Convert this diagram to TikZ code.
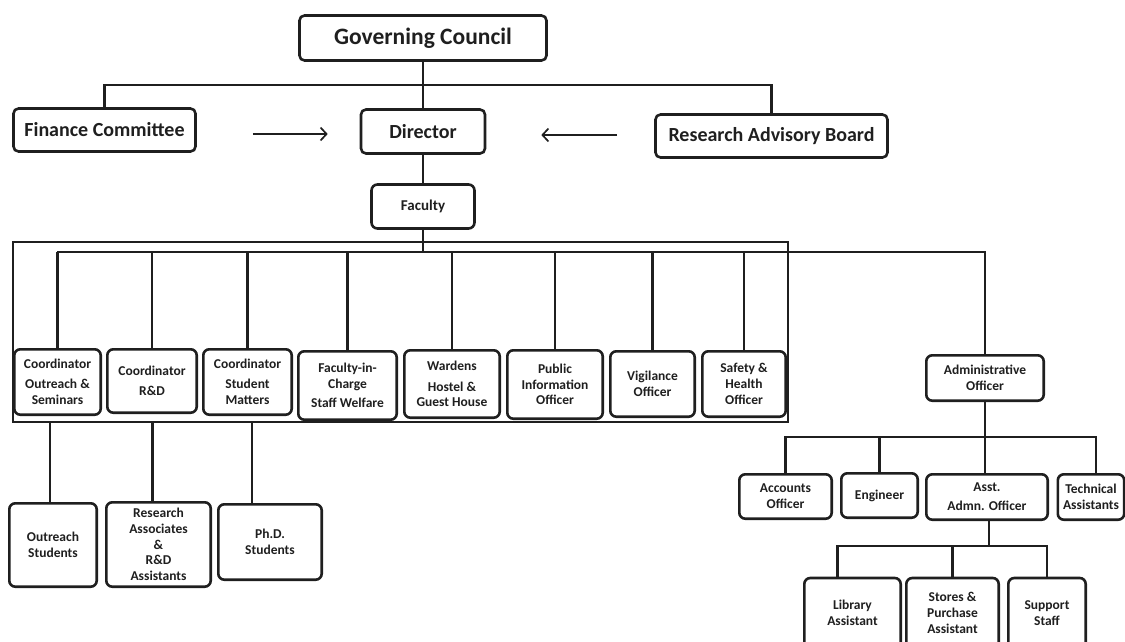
\documentclass[tikz,border=0pt]{standalone}
\usepackage{fontspec}
\setmainfont{Carlito}
\usetikzlibrary{arrows.meta}
\definecolor{ink}{gray}{0.12}
\begin{document}
\begin{tikzpicture}[x=1pt,y=-1pt,
  line/.style={draw=ink, line width=2.6pt},
  box/.style={draw=ink, line width=2.6pt, rounded corners=6pt, fill=white, align=center, inner sep=0pt, text=ink, font=\bfseries\fontsize{13.5}{15.8}\selectfont},
  bigbox/.style={box, rounded corners=5pt, font=\bfseries\fontsize{20}{23}\selectfont},
  arr/.style={draw=ink, line width=1.7pt, -{Straight Barb[length=6pt,width=13pt,line width=1.7pt]}},
  frame/.style={draw=ink, line width=2.6pt, inner sep=0pt}
]
\useasboundingbox (0,0) rectangle (1125,641);
% frame round the faculty posts
\node[frame, minimum width=775, minimum height=180] (grp) at (400.5,332) {};
% top levels
\node[bigbox, minimum width=247, minimum height=45, font=\bfseries\fontsize{23.5}{26}\selectfont] (gc) at (423,38) {Governing Council};
\node[bigbox, minimum width=182, minimum height=43] (fin) at (104.5,130) {Finance Committee};
\node[bigbox, minimum width=124, minimum height=44] (dir) at (423,131.5) {Director};
\node[bigbox, minimum width=232, minimum height=43] (rab) at (771.5,136) {Research Advisory Board};
\node[box, minimum width=103, minimum height=44, font=\bfseries\fontsize{15}{17}\selectfont] (fac) at (423,206.5) {Faculty};
% faculty posts
\node[box, minimum width=86.4, minimum height=65.4] (c1) at (57.5,382) {Coordinator\\[4pt]Outreach \&\\Seminars};
\node[box, minimum width=89.4, minimum height=63.4] (c2) at (152,381) {Coordinator\\[4pt]R\&D};
\node[box, minimum width=88.4, minimum height=65.4] (c3) at (247.5,382) {Coordinator\\[4pt]Student\\Matters};
\node[box, minimum width=98.4, minimum height=68.4] (c4) at (347.5,385.5) {Faculty-in-\\Charge\\[4pt]Staff Welfare};
\node[box, minimum width=95.4, minimum height=67.4] (c5) at (452,384) {Wardens\\[5pt]Hostel \&\\Guest House};
\node[box, minimum width=95.4, minimum height=68.4] (c6) at (555,384.5) {Public\\Information\\Officer};
\node[box, minimum width=84.4, minimum height=65.4] (c7) at (652.5,384) {Vigilance\\Officer};
\node[box, minimum width=83.4, minimum height=65.4] (c8) at (744,384) {Safety \&\\Health\\Officer};
\node[box, minimum width=117.4, minimum height=45.4] (adm) at (985,378) {Administrative\\Officer};
% under the coordinators
\node[box, minimum width=87.4, minimum height=83.4] (s1) at (53,545) {Outreach\\Students};
\node[box, minimum width=104.4, minimum height=84.4] (s2) at (158.5,544.5) {Research\\Associates\\\&\\R\&D\\Assistants};
\node[box, minimum width=103.4, minimum height=75.4] (s3) at (270,542) {Ph.D.\\Students};
% administration
\node[box, minimum width=92.4, minimum height=44.4] (a1) at (785.5,496.5) {Accounts\\Officer};
\node[box, minimum width=76.4, minimum height=44.4] (a2) at (879.5,495.5) {Engineer};
\node[box, minimum width=121.4, minimum height=45.4] (a3) at (987,497) {Asst.\\[3pt]Admn. Officer};
\node[box, minimum width=66.4, minimum height=45.4] (a4) at (1091,497) {Technical\\Assistants};
\node[box, minimum width=96.4, minimum height=70] (b1) at (852.5,613) {Library\\Assistant};
\node[box, minimum width=92.4, minimum height=70] (b2) at (952.5,613) {Stores \&\\Purchase\\Assistant};
\node[box, minimum width=77.4, minimum height=70] (b3) at (1047,613) {Support\\Staff};
% bus coordinates
\coordinate (top) at (423,85);
\coordinate (bus) at (57,252);
\coordinate (abus) at (985,437);
\coordinate (bbus) at (989,546);
% top connectors
\draw[line] (gc.south) -- (dir.north);
\draw[line] (fin.north) |- (top) -| (rab.north);
\draw[line] (dir.south) -- (fac.north);
\draw[arr, shorten <=56pt, shorten >=32pt] ([yshift=-4pt]fin.east) -- ([yshift=-4pt]fin.east -| dir.west);
\draw[arr, shorten <=37pt, shorten >=55pt] ([yshift=1pt]rab.west) -- ([yshift=1pt]rab.west -| dir.east);
% faculty bus
\draw[line] (fac.south) -- (fac.south |- bus);
\draw[line] (bus) -| (adm.north);
\foreach \n in {c1,c2,c3,c4,c5,c6,c7,c8} {\draw[line] (\n.north) -- (\n.north |- bus);}
% under the frame
\draw[line] ([xshift=-3pt]s1.north) -- ([xshift=-3pt]s1.north |- grp.south);
\draw[line] ([xshift=-6pt]s2.north) -- ([xshift=-6pt]s2.north |- grp.south);
\draw[line] ([xshift=-18pt]s3.north) -- ([xshift=-18pt]s3.north |- grp.south);
% administration tree
\draw[line] (adm.south) -- (abus);
\draw[line] (a1.north) -- (a1.north |- abus) -- ([xshift=5pt]a4.north |- abus) -- ([xshift=5pt]a4.north);
\draw[line] (a2.north) -- (a2.north |- abus);
\draw[line] (a3.north -| abus) -- (abus);
\draw[line] (a3.south -| bbus) -- (bbus);
\draw[line] ([xshift=-15pt]b1.north) -- ([xshift=-15pt]b1.north |- bbus) -- (b3.north |- bbus) -- (b3.north);
\draw[line] (b2.north) -- (b2.north |- bbus);
\end{tikzpicture}
\end{document}
